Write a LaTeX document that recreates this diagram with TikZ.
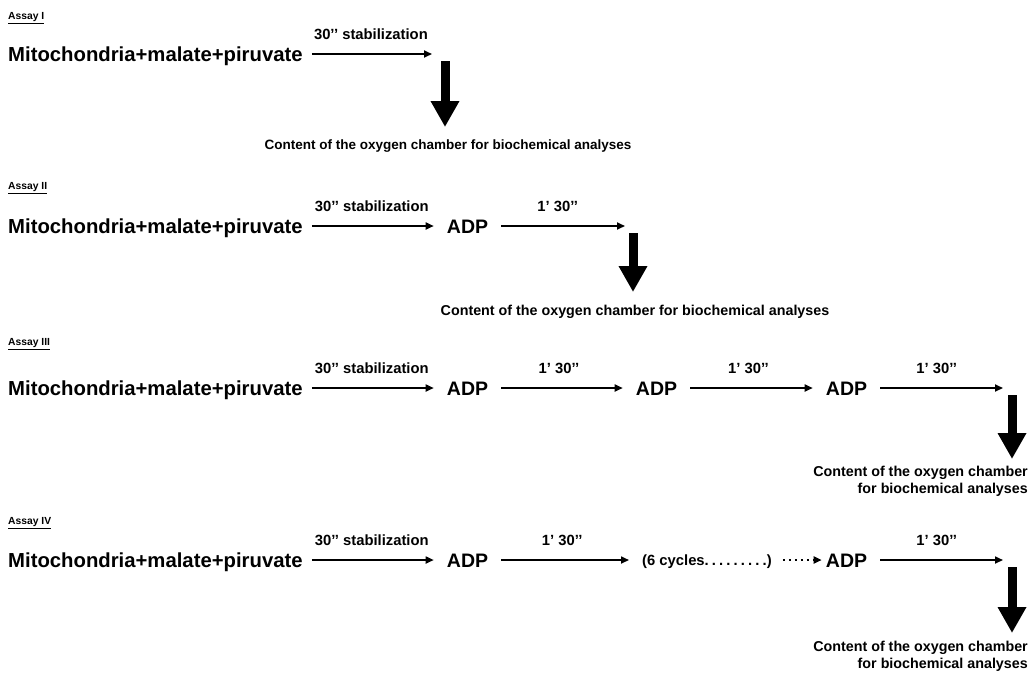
\documentclass[tikz,border=0pt]{standalone}
\usepackage{fontspec}
\setmainfont{Liberation Sans}
\usetikzlibrary{arrows.meta}

\begin{document}
\begin{tikzpicture}[
    x=1pt, y=-1pt,
    assay/.style={%
      font=\fontsize{10.3}{12}\selectfont\bfseries,
      inner sep=0pt,
      anchor=west,
    },
    mix/.style={%
      font=\fontsize{20.3}{24}\selectfont\bfseries,
      inner sep=0pt, text height=14.5pt, text depth=0pt,
      anchor=west,
    },
    adp/.style={%
      font=\fontsize{19.5}{24}\selectfont\bfseries,
      inner sep=0pt, text height=14pt, text depth=0pt,
    },
    time/.style={%
      font=\fontsize{14.8}{16}\selectfont\bfseries,
      inner sep=0pt, above=13pt, midway, xshift=-3pt,
    },
    content/.style={%
      font=\fontsize{14.3}{17}\selectfont\bfseries,
      inner sep=0pt, align=right,
    },
    flow/.style={%
      -{Triangle[length=8pt,width=7pt]},
      line width=1.7pt,
      shorten <=13pt, shorten >=13pt,
    },
    hold/.style={%
      -{Triangle[length=26pt,width=27pt]},
      line width=9pt,
      shorten <=7pt, shorten >=12pt,
    },
  ]
    \useasboundingbox (0,0) rectangle (1032,673);

    \node [assay] (assayI) at (8,18) {\underline{Assay I}};
    \node [mix] (mixI) at (8,54) {Mitochondria+malate+piruvate};
    \coordinate (turnI) at (445,54);
    \node [content, anchor=north, font=\fontsize{13.5}{17}\selectfont\bfseries] (outI) at (448,140) {Content of the oxygen chamber for biochemical analyses};
    \draw [flow, shorten <=9pt] (mixI) -- (turnI) node [time] {30’’ stabilization};
    \draw [hold, shorten >=13pt] (turnI) -- (turnI |- outI.north);

    \node [assay] (assayII) at (8,188) {\underline{Assay II}};
    \node [mix] (mixII) at (8,226) {Mitochondria+malate+piruvate};
    \node [adp] (adpIIa) at (467.5,226) {ADP};
    \coordinate (turnII) at (633,226);
    \node [content, anchor=north] (outII) at (635,305) {Content of the oxygen chamber for biochemical analyses};
    \draw [flow, shorten <=9pt] (mixII) -- (adpIIa) node [time] {30’’ stabilization};
    \draw [flow, shorten >=8pt] (adpIIa) -- (turnII) node [time] {1’ 30’’};
    \draw [hold, shorten >=13pt] (turnII) -- (turnII |- outII.north);

    \node [assay] (assayIII) at (8,344) {\underline{Assay III}};
    \node [mix] (mixIII) at (8,388) {Mitochondria+malate+piruvate};
    \node [adp] (adpIIIa) at (467.5,388) {ADP};
    \node [adp] (adpIIIb) at (656.5,388) {ADP};
    \node [adp] (adpIIIc) at (846.5,388) {ADP};
    \coordinate (turnIII) at (1012,388);
    \node [content, anchor=north east] (outIII) at (1028,466) {Content of the oxygen chamber\\for biochemical analyses};
    \draw [flow, shorten <=9pt] (mixIII) -- (adpIIIa) node [time] {30’’ stabilization};
    \draw [flow] (adpIIIa) -- (adpIIIb) node [time] {1’ 30’’};
    \draw [flow] (adpIIIb) -- (adpIIIc) node [time] {1’ 30’’};
    \draw [flow, shorten >=9pt] (adpIIIc) -- (turnIII) node [time] {1’ 30’’};
    \draw [hold, shorten >=7pt] (turnIII) -- (turnIII |- outIII.north);

    \node [assay] (assayIV) at (8,523) {\underline{Assay IV}};
    \node [mix] (mixIV) at (8,560) {Mitochondria+malate+piruvate};
    \node [adp] (adpIVa) at (467.5,560) {ADP};
    \node [font=\fontsize{14.8}{16}\selectfont\bfseries, inner sep=0pt, text height=10pt, text depth=0pt, anchor=west] (cycles) at (642,560) {(6 cycles\makebox[62pt][s]{.\hfil.\hfil.\hfil.\hfil.\hfil.\hfil.\hfil.\hfil.})};
    \node [adp] (adpIVb) at (846.5,560) {ADP};
    \coordinate (turnIV) at (1012,560);
    \node [content, anchor=north east] (outIV) at (1028,641) {Content of the oxygen chamber\\for biochemical analyses};
    \draw [flow, shorten <=9pt] (mixIV) -- (adpIVa) node [time] {30’’ stabilization};
    \draw [flow] (adpIVa) -- (cycles) node [time] {1’ 30’’};
    \draw [flow, line width=2pt, dash pattern=on 2pt off 4pt, shorten <=11pt, shorten >=4pt] (cycles) -- (adpIVb);
    \draw [flow, shorten >=9pt] (adpIVb) -- (turnIV) node [time] {1’ 30’’};
    \draw [hold, shorten >=8pt] (turnIV) -- (turnIV |- outIV.north);
\end{tikzpicture}
\end{document}
